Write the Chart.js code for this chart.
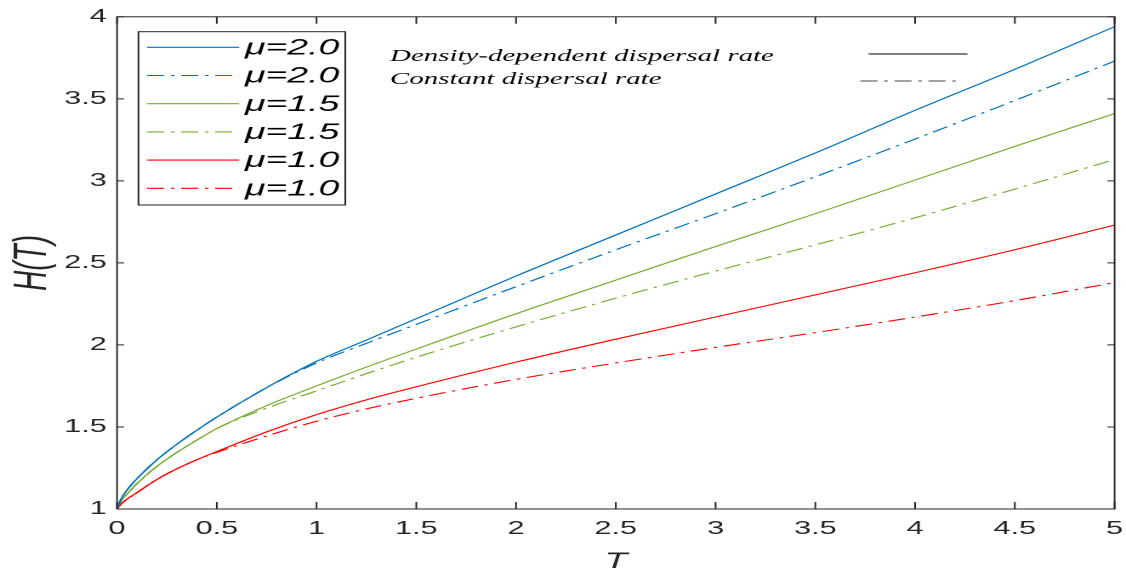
<!DOCTYPE html>
<html>
<head>
<meta charset="utf-8">
<script src="https://cdn.jsdelivr.net/npm/chart.js@4.4.0/dist/chart.umd.min.js"></script>
<style>
  html, body { margin: 0; padding: 0; background: #fff; overflow: hidden; }
  #wrap { position: absolute; left: 0; top: 0; width: 662px; height: 574px; transform: scaleX(1.7009); transform-origin: 0 0; }
</style>
</head>
<body>
<div id="wrap"><canvas id="c"></canvas></div>
<script>
// ---- data ----
const tValues = [0, 0.02, 0.05, 0.1, 0.2, 0.3, 0.4, 0.5, 0.75, 1, 1.25, 1.5, 2, 2.5, 3, 3.5, 4, 4.5, 5];
const mu20Density  = [1, 1.06, 1.115, 1.185, 1.30, 1.395, 1.48, 1.56, 1.74, 1.90, 2.03, 2.16, 2.42, 2.67, 2.92, 3.17, 3.43, 3.68, 3.94];
const mu20Constant = [1, 1.06, 1.115, 1.185, 1.30, 1.395, 1.48, 1.56, 1.74, 1.89, 2.01, 2.125, 2.355, 2.58, 2.80, 3.025, 3.255, 3.49, 3.73];
const mu15Density  = [1, 1.05, 1.09, 1.155, 1.26, 1.345, 1.42, 1.49, 1.63, 1.75, 1.865, 1.975, 2.19, 2.395, 2.60, 2.80, 3.005, 3.21, 3.41];
const mu15Constant = [1, 1.05, 1.09, 1.155, 1.26, 1.345, 1.42, 1.49, 1.615, 1.72, 1.825, 1.925, 2.11, 2.285, 2.45, 2.61, 2.775, 2.95, 3.13];
const mu10Density  = [1, 1.03, 1.06, 1.10, 1.18, 1.245, 1.30, 1.35, 1.47, 1.575, 1.665, 1.745, 1.895, 2.035, 2.17, 2.305, 2.44, 2.58, 2.73];
const mu10Constant = [1, 1.03, 1.06, 1.10, 1.18, 1.245, 1.30, 1.345, 1.445, 1.535, 1.61, 1.675, 1.79, 1.89, 1.985, 2.075, 2.17, 2.27, 2.38];
const seriesLabels = ['\u03bc=2.0', '\u03bc=2.0', '\u03bc=1.5', '\u03bc=1.5', '\u03bc=1.0', '\u03bc=1.0'];
const xTickStep = 0.5, yTickStep = 0.5;
const annotationLabels = ['Density-dependent dispersal rate', 'Constant dispersal rate'];
const xTitle = 'T', yTitle = 'H(T)';

const BLUE = 'rgb(0,114,189)', GREEN = 'rgb(119,172,48)', RED = 'rgb(255,0,0)';
const DASHDOT = [10, 4, 2, 4];
const AXIS = '#262626';
const SANS = '"Liberation Sans", Arial, Helvetica, sans-serif';

function pts(ys) { return tValues.map((t, i) => ({ x: t, y: ys[i] })); }
function ds(label, ys, color, dashed) {
  return {
    label, data: pts(ys), borderColor: color, backgroundColor: color,
    borderWidth: 1.1, borderDash: dashed ? DASHDOT : [], pointRadius: 0,
    cubicInterpolationMode: 'monotone', fill: false
  };
}
const fmt = v => String(Math.round(v * 100) / 100);

const boxPlugin = {
  id: 'box',
  afterDatasetsDraw(chart) {
    const { ctx, chartArea: a, scales } = chart;
    ctx.save();
    ctx.strokeStyle = AXIS;
    ctx.lineWidth = 1;
    ctx.setLineDash([]);
    ctx.strokeRect(a.left, a.top, a.right - a.left, a.bottom - a.top);
    const L = 7;
    ctx.beginPath();
    scales.x.ticks.forEach(t => {
      const px = scales.x.getPixelForValue(t.value);
      ctx.moveTo(px, a.bottom); ctx.lineTo(px, a.bottom - L);
      ctx.moveTo(px, a.top); ctx.lineTo(px, a.top + L);
    });
    scales.y.ticks.forEach(t => {
      const py = scales.y.getPixelForValue(t.value);
      ctx.moveTo(a.left, py); ctx.lineTo(a.left + 4.2, py);
      ctx.moveTo(a.right, py); ctx.lineTo(a.right - 4.2, py);
    });
    ctx.stroke();
    ctx.restore();
  }
};

const legendPlugin = {
  id: 'matlabLegend',
  afterDraw(chart) {
    const { ctx } = chart;
    const bx = 81.4, by = 31.7, bw = 121.6, bh = 173.3;
    ctx.save();
    ctx.fillStyle = '#fff';
    ctx.fillRect(bx, by, bw, bh);
    ctx.strokeStyle = AXIS;
    ctx.lineWidth = 1;
    ctx.strokeRect(bx, by, bw, bh);
    ctx.font = 'italic 22px ' + SANS;
    ctx.textBaseline = 'middle';
    ctx.fillStyle = '#000';
    chart.data.datasets.forEach((d, i) => {
      const y = 47.3 + i * 28.2;
      ctx.strokeStyle = d.borderColor;
      ctx.lineWidth = 1.1;
      ctx.setLineDash(d.borderDash || []);
      ctx.beginPath();
      ctx.moveTo(86.5, y); ctx.lineTo(140.6, y);
      ctx.stroke();
      ctx.setLineDash([]);
      ctx.fillText(d.label, 144, y + 1);
    });
    // line-style annotation
    ctx.font = 'italic 17px "Liberation Serif", "Times New Roman", serif';
    ctx.textBaseline = 'alphabetic';
    ctx.fillStyle = '#000';
    ctx.fillText(annotationLabels[0], 229.3, 61);
    ctx.fillText(annotationLabels[1], 229.3, 84);
    ctx.strokeStyle = '#000';
    ctx.lineWidth = 1;
    ctx.beginPath(); ctx.moveTo(510.6, 54); ctx.lineTo(568.8, 54); ctx.stroke();
    ctx.strokeStyle = '#444';
    ctx.setLineDash(DASHDOT);
    ctx.beginPath(); ctx.moveTo(505.9, 81); ctx.lineTo(565.9, 81); ctx.stroke();
    ctx.restore();
  }
};

new Chart(document.getElementById('c'), {
  type: 'line',
  data: {
    datasets: [
      ds(seriesLabels[0], mu20Density, BLUE, false),
      ds(seriesLabels[1], mu20Constant, BLUE, true),
      ds(seriesLabels[2], mu15Density, GREEN, false),
      ds(seriesLabels[3], mu15Constant, GREEN, true),
      ds(seriesLabels[4], mu10Density, RED, false),
      ds(seriesLabels[5], mu10Constant, RED, true)
    ]
  },
  options: {
    responsive: true,
    maintainAspectRatio: false,
    devicePixelRatio: 2,
    animation: false,
    layout: { padding: { left: 0, right: 6.7, top: 16, bottom: 0 } },
    plugins: { legend: { display: false }, tooltip: { enabled: false } },
    scales: {
      x: {
        type: 'linear', min: 0, max: 5,
        grid: { display: false, drawTicks: false },
        border: { display: false },
        ticks: { stepSize: xTickStep, padding: 9, color: AXIS, maxRotation: 0, autoSkip: false,
                 callback: fmt, font: { family: SANS, size: 18 } },
        title: { display: true, text: xTitle, color: AXIS, padding: { top: 0, bottom: 1 },
                 font: { family: SANS, size: 22, style: 'italic', lineHeight: 1 } },
        afterFit(s) { s.height = 65; s.paddingRight = 0; s.paddingLeft = 0; }
      },
      y: {
        type: 'linear', min: 1, max: 4,
        grid: { display: false, drawTicks: false },
        border: { display: false },
        ticks: { stepSize: yTickStep, padding: 6, color: AXIS, autoSkip: false,
                 callback: fmt, font: { family: SANS, size: 18 } },
        title: { display: true, text: yTitle, color: AXIS, padding: { top: 5, bottom: 0 },
                 font: { family: SANS, size: 28, style: 'italic', lineHeight: 1 } },
        afterFit(s) { s.width = 68.8; }
      }
    }
  },
  plugins: [boxPlugin, legendPlugin]
});
</script>
</body>
</html>
